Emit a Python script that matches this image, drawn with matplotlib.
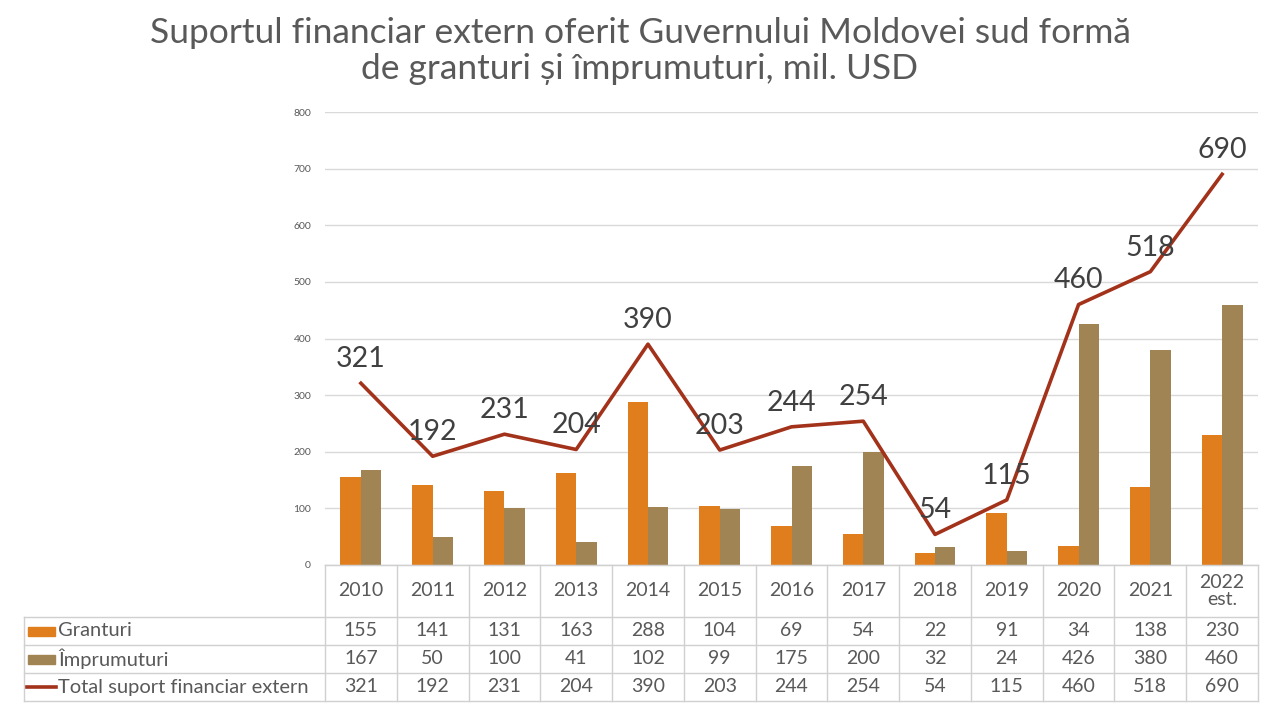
import matplotlib
matplotlib.use("Agg")
import matplotlib.pyplot as plt
import numpy as np

years = ["2010", "2011", "2012", "2013", "2014", "2015", "2016", "2017", "2018", "2019", "2020", "2021", "2022\nest."]
granturi = [155, 141, 131, 163, 288, 104, 69, 54, 22, 91, 34, 138, 230]
imprumuturi = [167, 50, 100, 41, 102, 99, 175, 200, 32, 24, 426, 380, 460]
total = [321, 192, 231, 204, 390, 203, 244, 254, 54, 115, 460, 518, 690]
series_names = ["Granturi", "Împrumuturi", "Total suport financiar extern"]
title = "Suportul financiar extern oferit Guvernului Moldovei sud formă\nde granturi și împrumuturi, mil. USD"

c_gr = "#E07D1C"
c_im = "#A08453"
c_tot = "#A3321B"
txt = "#595959"
grid_c = "#D9D9D9"

plt.rcParams['font.family'] = ['Lato', 'DejaVu Sans']

W, H = 1280, 708
fig = plt.figure(figsize=(W/100, H/100), dpi=100)
fig.patch.set_facecolor("white")

x_left, x_right = 325, 1258
y_top, y_zero = 112, 565

ax = fig.add_axes([x_left/W, 1 - y_zero/H, (x_right-x_left)/W, (y_zero-y_top)/H])
n = len(years)
x = np.arange(n)
bw = 0.285
ax.bar(x - bw/2, granturi, bw, color=c_gr, zorder=2)
ax.bar(x + bw/2, imprumuturi, bw, color=c_im, zorder=2)
ax.plot(x, total, color=c_tot, lw=2.6, zorder=3)
for xi, v in zip(x, total):
    ax.annotate(str(v), (xi, v), xytext=(0, 8), textcoords="offset points",
                ha="center", va="bottom", fontsize=20.5, color="#404040", zorder=4)
ax.set_xlim(-0.5, n - 0.5)
ax.set_ylim(0, 800)
ax.set_yticks(range(0, 801, 100))
ax.tick_params(axis="y", length=0, labelsize=7.5, labelcolor=txt, pad=10)
ax.set_xticks([])
ax.yaxis.grid(True, color=grid_c, lw=1)
ax.set_axisbelow(True)
for s in ["top", "right", "left"]:
    ax.spines[s].set_visible(False)
ax.spines["bottom"].set_color(grid_c)

# data table drawn in figure pixel coords
tab = fig.add_axes([0, 0, 1, 1])
tab.set_xlim(0, W)
tab.set_ylim(H, 0)
tab.axis("off")
col_w = (x_right - x_left) / n
row_y = [565, 617, 645, 673, 701]
lc = "#D0D0D0"
tab.plot([x_left, x_right], [row_y[0], row_y[0]], color=lc, lw=1)
for yv in row_y[1:]:
    tab.plot([24, x_right], [yv, yv], color=lc, lw=1)
tab.plot([24, 24], [row_y[1], row_y[-1]], color=lc, lw=1)
for i in range(n + 1):
    xv = x_left + i * col_w
    tab.plot([xv, xv], [row_y[0], row_y[-1]], color=lc, lw=1)
for i, yl in enumerate(years):
    cx = x_left + (i + 0.5) * col_w
    tab.text(cx, (row_y[0] + row_y[1]) / 2, yl, ha="center", va="center",
             fontsize=14, color=txt, linespacing=1.05)
rows = [granturi, imprumuturi, total]
for r, vals in enumerate(rows):
    cy = (row_y[r + 1] + row_y[r + 2]) / 2
    for i, v in enumerate(vals):
        cx = x_left + (i + 0.5) * col_w
        tab.text(cx, cy, str(v), ha="center", va="center", fontsize=14, color=txt)
    tab.text(58, cy, series_names[r], ha="left", va="center", fontsize=14.5, color=txt)
tab.add_patch(plt.Rectangle((28, (row_y[1]+row_y[2])/2 - 4), 27, 9, color=c_gr))
tab.add_patch(plt.Rectangle((28, (row_y[2]+row_y[3])/2 - 4), 27, 9, color=c_im))
ty = (row_y[3] + row_y[4]) / 2
tab.plot([27, 56], [ty, ty], color=c_tot, lw=2.6)

fig.text(0.5, 1 - 17/H, title, ha="center", va="top", fontsize=25.5, color=txt, linespacing=1.15)

fig.savefig("out.png", dpi=100, facecolor="white")
